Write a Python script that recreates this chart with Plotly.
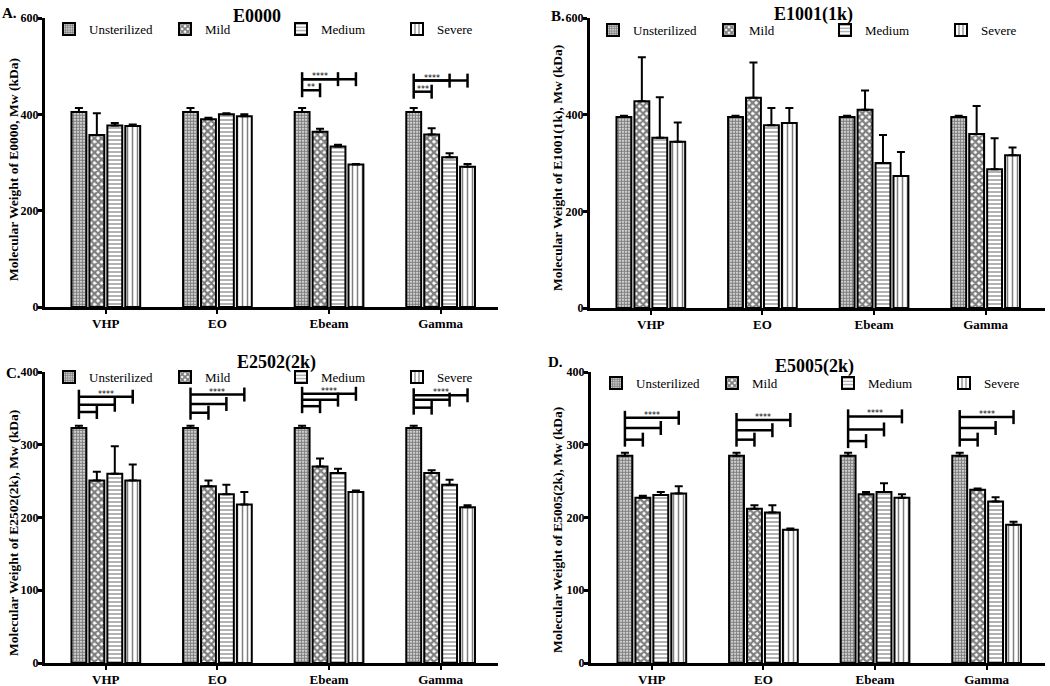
import plotly.graph_objects as go

categories = ["VHP", "EO", "Ebeam", "Gamma"]
series = ["Unsterilized", "Mild", "Medium", "Severe"]

# Panel A: E0000
e0000_unst = [405, 405, 405, 405]
e0000_unst_err = [8, 8, 8, 8]
e0000_mild = [357, 390, 364, 358]
e0000_mild_err = [45, 3, 6, 13]
e0000_medium = [377, 400, 333, 311]
e0000_medium_err = [5, 2, 4, 8]
e0000_severe = [376, 396, 296, 291]
e0000_severe_err = [3, 4, 1, 6]

# Panel B: E1001(1k)
e1001_unst = [395, 395, 395, 395]
e1001_unst_err = [3, 3, 3, 3]
e1001_mild = [428, 435, 410, 360]
e1001_mild_err = [91, 73, 40, 58]
e1001_medium = [352, 378, 300, 287]
e1001_medium_err = [84, 36, 58, 64]
e1001_severe = [344, 383, 273, 316]
e1001_severe_err = [40, 31, 50, 16]

# Panel C: E2502(2k)
e2502_unst = [323, 323, 323, 323]
e2502_unst_err = [3, 3, 3, 3]
e2502_mild = [251, 243, 270, 261]
e2502_mild_err = [12, 8, 11, 4]
e2502_medium = [260, 232, 261, 245]
e2502_medium_err = [38, 13, 6, 7]
e2502_severe = [251, 218, 235, 214]
e2502_severe_err = [22, 17, 2, 3]

# Panel D: E5005(2k)
e5005_unst = [285, 285, 285, 285]
e5005_unst_err = [4, 4, 4, 4]
e5005_mild = [227, 212, 232, 238]
e5005_mild_err = [3, 5, 3, 2]
e5005_medium = [231, 207, 235, 222]
e5005_medium_err = [4, 10, 12, 6]
e5005_severe = [233, 183, 227, 190]
e5005_severe_err = [10, 2, 5, 4]

# significance brackets: (category index, from series, to series, height, label)
e0000_brackets = [(2, 0, 3, 473, ""), (2, 0, 2, 473, "****"), (2, 0, 1, 450, "**"),
                  (3, 0, 3, 470, ""), (3, 0, 2, 470, "****"), (3, 0, 1, 447, "***")]
e1001_brackets = []
e2502_brackets = [(0, 0, 3, 366, "****"), (0, 0, 2, 355, ""), (0, 0, 1, 345, ""),
                  (1, 0, 3, 369, "****"), (1, 0, 2, 356, ""), (1, 0, 1, 344, ""),
                  (2, 0, 3, 370, "****"), (2, 0, 2, 362, ""), (2, 0, 1, 353, ""),
                  (3, 0, 3, 368, "****"), (3, 0, 2, 362, ""), (3, 0, 1, 351, "")]
e5005_brackets = [(0, 0, 3, 337, "****"), (0, 0, 2, 323, ""), (0, 0, 1, 307, ""),
                  (1, 0, 3, 334, "****"), (1, 0, 2, 320, ""), (1, 0, 1, 307, ""),
                  (2, 0, 3, 339, "****"), (2, 0, 2, 321, ""), (2, 0, 1, 305, ""),
                  (3, 0, 3, 338, "****"), (3, 0, 2, 323, ""), (3, 0, 1, 307, "")]

W, H = 1050, 686
FONT = "Liberation Serif"
BARGAP = 0.357
BARGROUPGAP = 0.17

patterns = [
    dict(shape=".", size=3, solidity=0.7, fgcolor="black", bgcolor="white"),
    dict(shape="x", size=5, solidity=0.7, fgcolor="black", bgcolor="white"),
    dict(shape="-", size=4, solidity=0.3, fgcolor="black", bgcolor="white"),
    dict(shape="|", size=5, solidity=0.3, fgcolor="black", bgcolor="white"),
]

panels = [
    dict(letter="A.", title="E0000", ymax=600, dtick=200,
         means=[e0000_unst, e0000_mild, e0000_medium, e0000_severe],
         errs=[e0000_unst_err, e0000_mild_err, e0000_medium_err, e0000_severe_err],
         brackets=e0000_brackets, px=(45, 498), py=(18, 307), legy=29, legx=49,
         title_xy=(257, 16), letter_xy=(9, 13), ytitle_xy=(13, 170)),
    dict(letter="B.", title="E1001(1k)", ymax=600, dtick=200,
         means=[e1001_unst, e1001_mild, e1001_medium, e1001_severe],
         errs=[e1001_unst_err, e1001_mild_err, e1001_medium_err, e1001_severe_err],
         brackets=e1001_brackets, px=(590, 1045), py=(18, 308), legy=30, legx=593,
         title_xy=(813, 15), letter_xy=(558, 16), ytitle_xy=(557, 168)),
    dict(letter="C.", title="E2502(2k)", ymax=400, dtick=100,
         means=[e2502_unst, e2502_mild, e2502_medium, e2502_severe],
         errs=[e2502_unst_err, e2502_mild_err, e2502_medium_err, e2502_severe_err],
         brackets=e2502_brackets, px=(45, 498), py=(372, 663), legy=377, legx=49,
         title_xy=(276, 362), letter_xy=(13, 373), ytitle_xy=(13, 533)),
    dict(letter="D.", title="E5005(2k)", ymax=400, dtick=100,
         means=[e5005_unst, e5005_mild, e5005_medium, e5005_severe],
         errs=[e5005_unst_err, e5005_mild_err, e5005_medium_err, e5005_severe_err],
         brackets=e5005_brackets, px=(591, 1045), py=(372, 663), legy=383, legx=596,
         title_xy=(814, 366), letter_xy=(555, 362), ytitle_xy=(557, 530)),
]

fig = go.Figure()
layout = dict(width=W, height=H, margin=dict(l=0, r=0, t=0, b=0, autoexpand=False),
              paper_bgcolor="white", plot_bgcolor="white",
              barmode="group", bargap=BARGAP, bargroupgap=BARGROUPGAP,
              font=dict(family=FONT, color="black"))
shapes = []
annotations = []
slot = (1 - BARGAP) / 4


def paper(xy):
    return xy[0] / W, 1 - xy[1] / H


for pi, p in enumerate(panels):
    sfx = "" if pi == 0 else str(pi + 1)
    xa, ya = "x" + sfx, "y" + sfx
    leg = "legend" + sfx
    for si, name in enumerate(series):
        fig.add_trace(go.Bar(
            x=list(range(len(categories))), y=p["means"][si], name=name,
            xaxis=xa, yaxis=ya, legend=leg,
            marker=dict(color="white", line=dict(color="black", width=2),
                        pattern=patterns[si]),
            error_y=dict(type="data", symmetric=False, array=p["errs"][si],
                         arrayminus=[0] * len(categories),
                         color="black", thickness=2, width=4),
        ))
    x0p, x1p = p["px"]
    y0p, y1p = p["py"]
    ppu = 111.6
    first_center = x0p + 0.545 * ppu
    xr0 = -(first_center - x0p) / ppu
    xr1 = xr0 + (x1p - x0p) / ppu
    layout["xaxis" + sfx] = dict(
        domain=[x0p / W, x1p / W], anchor=ya, range=[xr0, xr1],
        tickvals=list(range(len(categories))), ticktext=categories,
        showline=True, linecolor="black", linewidth=3, ticks="outside",
        ticklen=4, tickwidth=2, tickcolor="black", showgrid=False, zeroline=False,
        ticklabelstandoff=-2,
        tickfont=dict(family=FONT, size=13, color="black", weight="bold"))
    layout["yaxis" + sfx] = dict(
        domain=[1 - y1p / H, 1 - y0p / H], anchor=xa, range=[0, p["ymax"]],
        dtick=p["dtick"], showline=True, linecolor="black", linewidth=3,
        ticks="outside", ticklen=4, tickwidth=2.5, tickcolor="black",
        showgrid=False, zeroline=False, ticklabelstandoff=-3,
        tickfont=dict(family=FONT, size=12, color="black", weight="bold"))
    layout[leg] = dict(orientation="h", x=p["legx"] / W, xanchor="left",
                       y=1 - p["legy"] / H, yanchor="middle",
                       entrywidth=71, entrywidthmode="pixels",
                       bgcolor="rgba(0,0,0,0)", tracegroupgap=0,
                       font=dict(family=FONT, size=13, color="black"))
    tx, ty = paper(p["title_xy"])
    annotations.append(dict(text="<b>" + p["title"] + "</b>", xref="paper", yref="paper",
                            x=tx, y=ty, xanchor="center", yanchor="middle", showarrow=False,
                            font=dict(family=FONT, size=18, color="black")))
    lx, ly = paper(p["letter_xy"])
    annotations.append(dict(text="<b>" + p["letter"] + "</b>", xref="paper", yref="paper",
                            x=lx, y=ly, xanchor="center", yanchor="middle", showarrow=False,
                            font=dict(family=FONT, size=15, color="black")))
    yx, yy = paper(p["ytitle_xy"])
    annotations.append(dict(text="<b>Molecular Weight of " + p["title"] + ", Mw (kDa)</b>",
                            xref="paper", yref="paper", x=yx, y=yy, textangle=-90,
                            xanchor="center", yanchor="middle", showarrow=False,
                            font=dict(family=FONT, size=13.5, color="black")))
    d = 7 * p["ymax"] / (y1p - y0p)
    lw = 2.5
    groups = {}
    for (ci, sa, sb, h, lab) in p["brackets"]:
        xa0 = ci + (sa - 1.5) * slot
        xb0 = ci + (sb - 1.5) * slot
        shapes.append(dict(type="line", xref=xa, yref=ya, x0=xa0, x1=xb0, y0=h, y1=h,
                           line=dict(color="black", width=lw)))
        shapes.append(dict(type="line", xref=xa, yref=ya, x0=xb0, x1=xb0, y0=h - d, y1=h + d,
                           line=dict(color="black", width=lw)))
        groups.setdefault((ci, sa), []).append(h)
        if lab:
            annotations.append(dict(text=lab, xref=xa, yref=ya, x=(xa0 + xb0) / 2, y=h,
                                    yshift=-4, xanchor="center", yanchor="bottom",
                                    showarrow=False,
                                    font=dict(family="DejaVu Sans", size=8, color="black")))
    for (ci, sa), hs in groups.items():
        xv = ci + (sa - 1.5) * slot
        shapes.append(dict(type="line", xref=xa, yref=ya, x0=xv, x1=xv,
                           y0=min(hs) - d, y1=max(hs) + d,
                           line=dict(color="black", width=lw)))

layout["shapes"] = shapes
layout["annotations"] = annotations
fig.update_layout(**layout)
fig.write_html("out.html", post_script="document.body.style.margin='0';",
               config={"displayModeBar": False})
